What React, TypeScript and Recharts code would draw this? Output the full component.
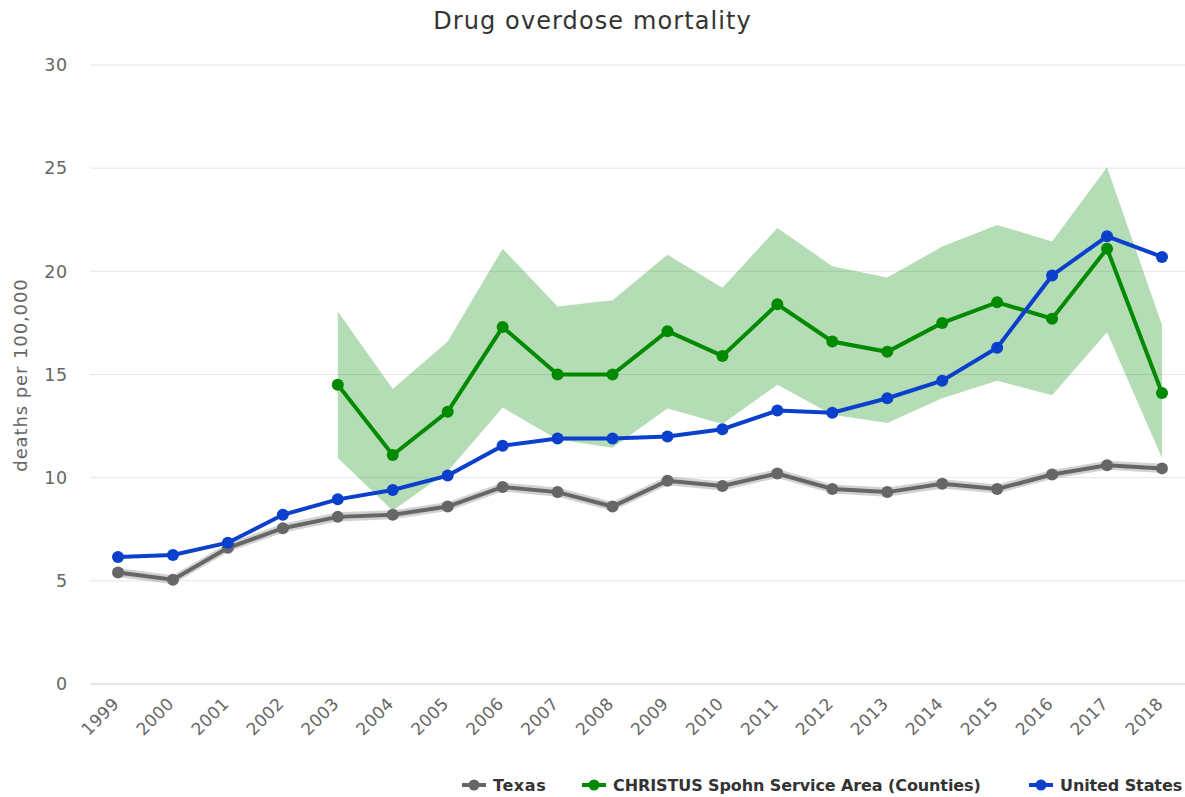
import React from 'react';
import { ComposedChart, Line, Area, XAxis, YAxis, CartesianGrid } from 'recharts';

const years = ['1999', '2000', '2001', '2002', '2003', '2004', '2005', '2006', '2007', '2008', '2009', '2010', '2011', '2012', '2013', '2014', '2015', '2016', '2017', '2018'];

const texas = [5.4, 5.05, 6.6, 7.55, 8.1, 8.2, 8.6, 9.55, 9.3, 8.6, 9.85, 9.6, 10.2, 9.45, 9.3, 9.7, 9.45, 10.15, 10.6, 10.45];
const texasLow = [5.18, 4.83, 6.38, 7.33, 7.88, 7.98, 8.38, 9.33, 9.08, 8.38, 9.63, 9.38, 9.98, 9.23, 9.08, 9.48, 9.23, 9.93, 10.38, 10.23];
const texasHigh = [5.62, 5.27, 6.82, 7.77, 8.32, 8.42, 8.82, 9.77, 9.52, 8.82, 10.07, 9.82, 10.42, 9.67, 9.52, 9.92, 9.67, 10.37, 10.82, 10.67];

const christus = [null, null, null, null, 14.5, 11.1, 13.2, 17.3, 15.0, 15.0, 17.1, 15.9, 18.4, 16.6, 16.1, 17.5, 18.5, 17.7, 21.1, 14.1];
const christusLow = [null, null, null, null, 10.95, 8.4, 10.3, 13.4, 11.85, 11.45, 13.35, 12.6, 14.5, 13.05, 12.65, 13.85, 14.7, 14.0, 17.05, 10.95];
const christusHigh = [null, null, null, null, 18.05, 14.3, 16.6, 21.1, 18.3, 18.6, 20.8, 19.2, 22.1, 20.25, 19.7, 21.2, 22.25, 21.45, 25.05, 17.4];

const us = [6.15, 6.25, 6.85, 8.2, 8.95, 9.4, 10.1, 11.55, 11.9, 11.9, 12.0, 12.35, 13.25, 13.15, 13.85, 14.7, 16.3, 19.8, 21.7, 20.7];

const yTicks = [0, 5, 10, 15, 20, 25, 30];

const seriesNames = ['Texas', 'CHRISTUS Spohn Service Area (Counties)', 'United States'];
const seriesColors = ['#666666', '#008a00', '#0a40cc'];

const data = years.map((year, i) => ({
  year,
  texas: texas[i],
  texasBand: [texasLow[i], texasHigh[i]],
  christus: christus[i],
  christusBand: christusLow[i] == null ? null : [christusLow[i], christusHigh[i]],
  us: us[i],
}));

const FONT = '"DejaVu Sans", sans-serif';

const XTick = (props: any) => {
  const { x, y, payload } = props;
  const px = x + 2;
  const py = y + 21;
  return (
    <text
      x={px}
      y={py}
      transform={`rotate(-45, ${px}, ${py})`}
      textAnchor="end"
      fill="#666666"
      fontSize={17}
      fontFamily={FONT}
      letterSpacing={0.3}
    >
      {payload.value}
    </text>
  );
};

const legendLefts = [462, 582, 1029];

export default function App() {
  return (
    <div style={{ position: 'absolute', left: 0, top: 0, width: 1185, height: 797, fontFamily: FONT, background: '#fff' }}>
      <div
        style={{
          position: 'absolute',
          left: 0,
          width: 1185,
          top: 7,
          textAlign: 'center',
          fontSize: 24,
          color: '#333333',
          letterSpacing: 1.1,
          whiteSpace: 'nowrap',
        }}
      >
        Drug overdose mortality
      </div>
      <div
        style={{
          position: 'absolute',
          left: 20,
          top: 375,
          transform: 'translate(-50%, -50%) rotate(-90deg)',
          fontSize: 18,
          color: '#666666',
          letterSpacing: 0.9,
          whiteSpace: 'nowrap',
        }}
      >
        deaths per 100,000
      </div>
      <ComposedChart width={1185} height={797} data={data} margin={{ top: 65, right: 0, bottom: 0, left: 0 }}>
        <CartesianGrid vertical={false} stroke="#e6e6e6" strokeWidth={1} />
        <XAxis
          dataKey="year"
          type="category"
          height={113}
          padding={{ left: 28, right: 23 }}
          axisLine={{ stroke: '#ccd6eb', strokeWidth: 1 }}
          tickLine={false}
          tickSize={0}
          tickMargin={0}
          interval={0}
          tick={<XTick />}
        />
        <YAxis
          type="number"
          domain={[0, 30]}
          ticks={yTicks}
          width={90}
          axisLine={false}
          tickLine={false}
          tickSize={0}
          tickMargin={22}
          tick={{ fill: '#666666', fontSize: 17.5, fontFamily: FONT, letterSpacing: 0.8 }}
        />
        <Area
          dataKey="texasBand"
          type="linear"
          stroke="none"
          fill="#666666"
          fillOpacity={0.3}
          isAnimationActive={false}
          activeDot={false}
          legendType="none"
        />
        <Area
          dataKey="christusBand"
          type="linear"
          stroke="none"
          fill="#008a00"
          fillOpacity={0.29}
          isAnimationActive={false}
          activeDot={false}
          legendType="none"
        />
        <Line
          dataKey="texas"
          type="linear"
          stroke={seriesColors[0]}
          strokeWidth={4}
          dot={{ r: 6, fill: seriesColors[0], stroke: seriesColors[0], strokeWidth: 0 }}
          isAnimationActive={false}
        />
        <Line
          dataKey="christus"
          type="linear"
          stroke={seriesColors[1]}
          strokeWidth={4}
          dot={{ r: 6, fill: seriesColors[1], stroke: seriesColors[1], strokeWidth: 0 }}
          isAnimationActive={false}
        />
        <Line
          dataKey="us"
          type="linear"
          stroke={seriesColors[2]}
          strokeWidth={4}
          dot={{ r: 6, fill: seriesColors[2], stroke: seriesColors[2], strokeWidth: 0 }}
          isAnimationActive={false}
        />
      </ComposedChart>
      {seriesNames.map((name, i) => (
        <div
          key={name}
          style={{
            position: 'absolute',
            left: legendLefts[i],
            top: 774,
            height: 22,
            display: 'flex',
            alignItems: 'center',
            whiteSpace: 'nowrap',
          }}
        >
          <svg width={24} height={14} style={{ marginRight: 7 }}>
            <line x1={0} y1={7} x2={24} y2={7} stroke={seriesColors[i]} strokeWidth={4} />
            <circle cx={12} cy={7} r={5.5} fill={seriesColors[i]} />
          </svg>
          <span style={{ fontSize: 16, fontWeight: 'bold', color: '#333333', letterSpacing: i === 0 ? 0.6 : -0.1 }}>{name}</span>
        </div>
      ))}
    </div>
  );
}
